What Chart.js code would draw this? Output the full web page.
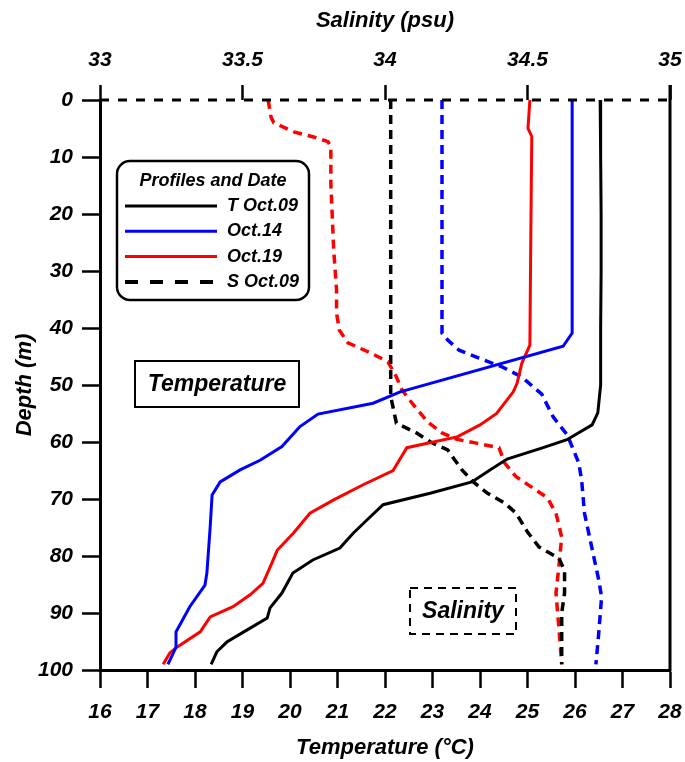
<!DOCTYPE html>
<html>
<head>
<meta charset="utf-8">
<script src="https://cdn.jsdelivr.net/npm/chart.js@4/dist/chart.umd.min.js"></script>
<style>
  body { margin: 0; background: #fff; }
  #wrap { width: 685px; height: 762px; }
</style>
</head>
<body>
<div id="wrap"><canvas id="chart"></canvas></div>
<script>
// temperature profiles (degC) vs depth (m)
var tOct09Depth = [0, 10, 20, 30, 40, 50, 54.9, 57, 59.6, 61, 63, 64.9, 67, 69, 71, 73.2, 76, 78.6, 80.7, 83, 86.5, 89.1, 90.9, 93, 95.1, 96.8, 99];
var tOct09 = [26.53, 26.54, 26.55, 26.55, 26.54, 26.54, 26.48, 26.36, 25.83, 25.33, 24.57, 24.21, 23.83, 22.95, 21.96, 21.68, 21.33, 21.05, 20.48, 20.06, 19.83, 19.58, 19.52, 19.09, 18.67, 18.46, 18.34];

var tOct14Depth = [0, 40.9, 43.2, 51.2, 53.2, 55.1, 57.3, 60.8, 63.2, 64.9, 67, 69.3, 74.9, 83, 85.1, 88.9, 92.1, 93.3, 96, 99];
var tOct14 = [25.94, 25.94, 25.75, 22.32, 21.75, 20.59, 20.21, 19.83, 19.37, 18.95, 18.53, 18.36, 18.32, 18.25, 18.21, 17.89, 17.68, 17.6, 17.6, 17.43];

var tOct19Depth = [0, 5, 6.4, 23.4, 43, 46.2, 49.7, 51.2, 55, 57, 59.1, 61, 65, 67.5, 70.2, 72.5, 76, 79, 81.2, 84.8, 86.8, 88.9, 90.7, 93.3, 96, 97, 99];
var tOct19 = [25.05, 25.01, 25.09, 25.07, 25.05, 24.88, 24.78, 24.7, 24.35, 24.0, 23.52, 22.46, 22.17, 21.54, 20.91, 20.42, 20.07, 19.73, 19.62, 19.43, 19.16, 18.8, 18.32, 18.11, 17.62, 17.47, 17.33];

// salinity profiles (psu) vs depth (m)
var sOct09Depth = [0, 52, 56.7, 58.4, 60, 61.4, 64.9, 67, 69, 70.7, 72.5, 75.8, 78.4, 80.4, 82.5, 86.5, 90, 99];
var sOct09 = [34.02, 34.02, 34.04, 34.11, 34.16, 34.22, 34.27, 34.31, 34.36, 34.42, 34.46, 34.5, 34.54, 34.61, 34.63, 34.63, 34.62, 34.62];

var sOct14Depth = [0, 40.9, 42.1, 43.9, 45.3, 46.8, 48.6, 51.6, 55.6, 58.8, 63.7, 66.7, 72.5, 77.2, 84.2, 87.2, 93.5, 99];
var sOct14 = [34.2, 34.2, 34.22, 34.26, 34.33, 34.41, 34.48, 34.55, 34.59, 34.64, 34.68, 34.69, 34.7, 34.72, 34.75, 34.76, 34.75, 34.74];

var sOct19Depth = [0, 3, 4, 5.6, 6.5, 7.3, 8.2, 14.6, 26.3, 33.3, 37.4, 40.4, 42.6, 44.4, 45.9, 48.6, 50.9, 53.5, 56.5, 58.4, 59.5, 60.2, 61, 63.7, 66.1, 68.1, 69.8, 72.5, 76.7, 81.9, 86.5, 92.5, 99];
var sOct19 = [33.59, 33.6, 33.61, 33.68, 33.75, 33.8, 33.81, 33.81, 33.82, 33.83, 33.83, 33.84, 33.87, 33.95, 34.01, 34.04, 34.06, 34.1, 34.15, 34.2, 34.25, 34.32, 34.4, 34.42, 34.46, 34.52, 34.57, 34.6, 34.62, 34.61, 34.6, 34.61, 34.62];

var legendLabels = ["T Oct.09", "Oct.14", "Oct.19", "S Oct.09"];

var FAMILY = "'Liberation Sans', Arial, sans-serif";
var tickFont = { family: FAMILY, size: 21, weight: "bold", style: "italic" };
var titleFont = { family: FAMILY, size: 22, weight: "bold", style: "italic" };

function pts(xs, ds) {
  return xs.map(function (v, i) { return { x: v, y: ds[i] }; });
}

function profile(xs, ds, axis, color, dashed) {
  return {
    data: pts(xs, ds),
    xAxisID: axis,
    yAxisID: "y",
    showLine: true,
    borderColor: color,
    borderWidth: dashed ? 3.5 : 3,
    borderDash: dashed ? [9, 6] : [],
    pointRadius: 0,
    fill: false,
    tension: 0
  };
}

function fontStr(size) {
  return "italic bold " + size + "px " + FAMILY;
}

function fixHeight(h) {
  return function (s) {
    s.height = h;
    s.paddingLeft = 0;
    s.paddingRight = 0;
  };
}

// dashed top spine, right spine, legend box and the two text boxes
var decor = {
  id: "decor",
  afterDraw: function (chart) {
    var ctx = chart.ctx;
    var a = chart.chartArea;
    ctx.save();

    ctx.strokeStyle = "#000";
    ctx.lineWidth = 3;
    ctx.setLineDash([9, 9]);
    ctx.beginPath();
    ctx.moveTo(a.left, a.top);
    ctx.lineTo(a.right, a.top);
    ctx.stroke();
    ctx.setLineDash([]);

    ctx.beginPath();
    ctx.moveTo(a.right, a.top - 15);
    ctx.lineTo(a.right, a.bottom + 1.5);
    ctx.stroke();

    // legend
    var lx = a.left + 17, ly = a.top + 61, lw = 192, lh = 139, r = 13;
    ctx.fillStyle = "#fff";
    ctx.lineWidth = 2.5;
    ctx.beginPath();
    ctx.moveTo(lx + r, ly);
    ctx.arcTo(lx + lw, ly, lx + lw, ly + lh, r);
    ctx.arcTo(lx + lw, ly + lh, lx, ly + lh, r);
    ctx.arcTo(lx, ly + lh, lx, ly, r);
    ctx.arcTo(lx, ly, lx + lw, ly, r);
    ctx.closePath();
    ctx.fill();
    ctx.stroke();

    ctx.fillStyle = "#000";
    ctx.textBaseline = "middle";
    ctx.textAlign = "center";
    ctx.font = fontStr(18);
    ctx.fillText("Profiles and Date", lx + lw / 2, ly + 20);

    ctx.textAlign = "left";
    var ds = chart.data.datasets;
    for (var i = 0; i < legendLabels.length; i++) {
      var yy = ly + 45 + i * 25.3;
      ctx.strokeStyle = ds[i].borderColor;
      ctx.lineWidth = i === 3 ? 4 : 3;
      ctx.setLineDash(i === 3 ? [13, 12] : []);
      ctx.beginPath();
      ctx.moveTo(lx + 8, yy);
      ctx.lineTo(lx + 100, yy);
      ctx.stroke();
      ctx.setLineDash([]);
      ctx.fillText(legendLabels[i], lx + 110, yy);
    }

    // "Temperature" box
    ctx.strokeStyle = "#000";
    ctx.lineWidth = 2;
    ctx.strokeRect(a.left + 35, a.top + 261, 164, 46);
    ctx.textAlign = "center";
    ctx.font = fontStr(23);
    ctx.fillText("Temperature", a.left + 117, a.top + 285);

    // "Salinity" dashed box
    ctx.setLineDash([8, 6]);
    ctx.strokeRect(a.left + 310, a.top + 488, 106, 46);
    ctx.setLineDash([]);
    ctx.fillText("Salinity", a.left + 363, a.top + 512);

    ctx.restore();
  }
};

var ctx = document.getElementById("chart").getContext("2d");

const chart = new Chart(ctx, {
  type: "scatter",
  data: {
    datasets: [
      profile(tOct09, tOct09Depth, "xT", "#000000", false),
      profile(tOct14, tOct14Depth, "xT", "#0000ff", false),
      profile(tOct19, tOct19Depth, "xT", "#ff0000", false),
      profile(sOct09, sOct09Depth, "xS", "#000000", true),
      profile(sOct14, sOct14Depth, "xS", "#0000ff", true),
      profile(sOct19, sOct19Depth, "xS", "#ff0000", true)
    ]
  },
  options: {
    responsive: true,
    maintainAspectRatio: false,
    animation: false,
    layout: { autoPadding: false, padding: { left: 0, right: 15, top: 0, bottom: 0 } },
    plugins: {
      legend: { display: false },
      tooltip: { enabled: false }
    },
    scales: {
      xT: {
        type: "linear",
        position: "bottom",
        min: 16,
        max: 28,
        ticks: { stepSize: 1, color: "#000", font: tickFont, padding: 12, maxRotation: 0, autoSkip: false },
        grid: { drawOnChartArea: false, drawTicks: true, tickLength: 18, tickWidth: 2.5, tickColor: "#000" },
        border: { color: "#000", width: 3 },
        title: { display: true, text: "Temperature (°C)", color: "#000", font: titleFont, padding: { top: 0, bottom: 1 } },
        afterFit: fixHeight(92)
      },
      xS: {
        type: "linear",
        position: "top",
        min: 33,
        max: 35,
        ticks: {
          stepSize: 0.5, color: "#000", font: tickFont, padding: 12, maxRotation: 0, autoSkip: false,
          callback: function (v) { return String(Math.round(v * 10) / 10); }
        },
        grid: { drawOnChartArea: false, drawTicks: true, tickLength: 15, tickWidth: 2.5, tickColor: "#000" },
        border: { display: false },
        title: { display: true, text: "Salinity (psu)", color: "#000", font: titleFont, padding: { top: 8, bottom: 0 } },
        afterFit: fixHeight(100)
      },
      y: {
        type: "linear",
        position: "left",
        reverse: true,
        min: 0,
        max: 100,
        ticks: { stepSize: 10, color: "#000", font: tickFont, padding: 9, autoSkip: false },
        grid: { drawOnChartArea: false, drawTicks: true, tickLength: 18, tickWidth: 2.5, tickColor: "#000" },
        border: { color: "#000", width: 3 },
        title: { display: true, text: "Depth (m)", color: "#000", font: titleFont, padding: { top: 12, bottom: 0 } },
        afterFit: function (s) { s.width = 100; s.paddingTop = 0; s.paddingBottom = 0; }
      }
    }
  },
  plugins: [decor]
});
</script>
</body>
</html>
